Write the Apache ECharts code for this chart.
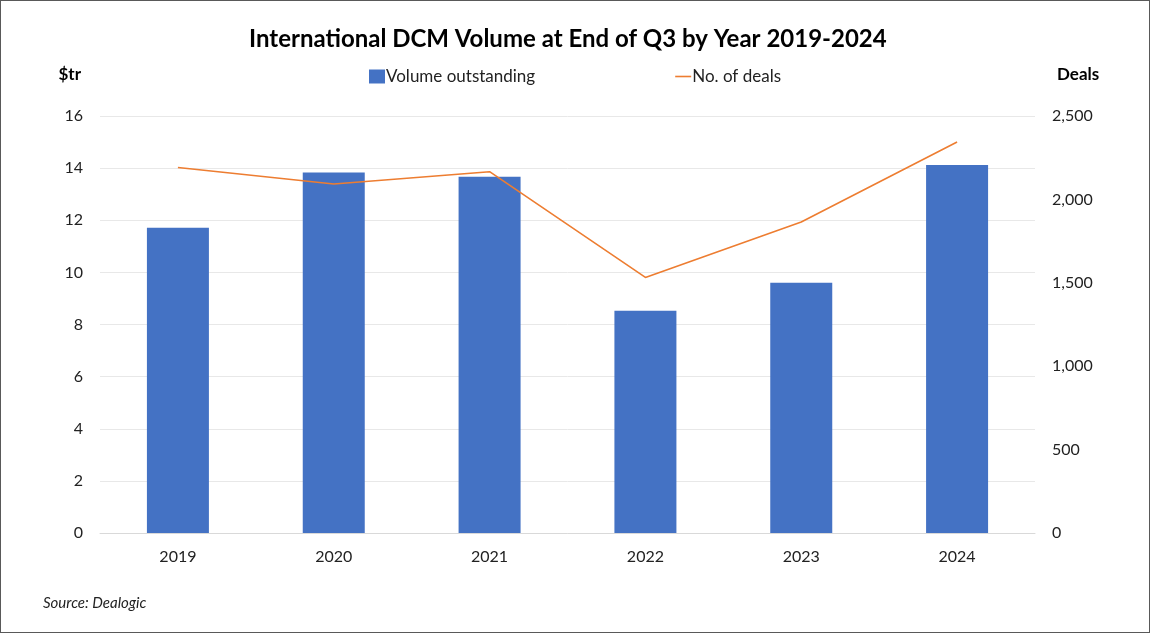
<!DOCTYPE html>
<html>
<head>
<meta charset="utf-8">
<script src="https://cdn.jsdelivr.net/npm/echarts@6/dist/echarts.min.js"></script>
<style>
html,body{margin:0;padding:0;background:#fff;}
#wrap{width:1150px;height:633px;box-sizing:border-box;border:1px solid #595959;position:relative;}
#c{width:1148px;height:631px;}
</style>
</head>
<body>
<div id="wrap"><div id="c"></div></div>
<script>
const years = ['2019','2020','2021','2022','2023','2024'];
const volumeOutstanding = [11.71, 13.83, 13.67, 8.53, 9.60, 14.12];
const numberOfDeals = [2191, 2092, 2166, 1532, 1864, 2344];
const leftTicks = {min:0, max:16, interval:2};
const rightTicks = {min:0, max:2500, interval:500};

const FONT = 'Lato, "Open Sans", sans-serif';
const chart = echarts.init(document.getElementById('c'), null, {renderer:'canvas'});
chart.setOption({
  animation:false,
  backgroundColor:'#fff',
  title:{
    text:'International DCM Volume at End of Q3 by Year 2019-2024',
    left:243, top:21,
    textStyle:{fontFamily:FONT, fontSize:24, fontWeight:'bold', color:'#000'}
  },
  legend:{
    top:62, left:'center', itemGap:140, itemWidth:16, itemHeight:14,
    textStyle:{fontFamily:FONT, fontSize:17, color:'#222', padding:[0,0,0,-4]},
    data:[
      {name:'Volume outstanding', icon:'rect'},
      {name:'No. of deals', icon:'path://M0,6 L20,6 L20,8 L0,8 Z'}
    ]
  },
  grid:{left:99, right:114, top:115, bottom:99, containLabel:false},
  xAxis:{
    type:'category', data:years,
    axisLine:{lineStyle:{color:'#D9D9D9'}},
    axisTick:{show:false},
    axisLabel:{fontFamily:FONT, fontSize:16, color:'#222', margin:16}
  },
  yAxis:[
    {
      type:'value', min:leftTicks.min, max:leftTicks.max, interval:leftTicks.interval,
      name:'$tr', nameLocation:'end', nameGap:33,
      nameTextStyle:{fontFamily:FONT, fontSize:17, fontWeight:'bold', color:'#000', align:'right', padding:[0,19,0,0]},
      axisLabel:{fontFamily:FONT, fontSize:16, color:'#222', margin:17},
      axisLine:{show:false}, axisTick:{show:false},
      splitLine:{lineStyle:{color:'#E8E8E8'}}
    },
    {
      type:'value', min:rightTicks.min, max:rightTicks.max, interval:rightTicks.interval,
      name:'Deals', nameLocation:'end', nameGap:33,
      nameTextStyle:{fontFamily:FONT, fontSize:17, fontWeight:'bold', color:'#000', align:'left', padding:[0,0,0,22]},
      axisLabel:{fontFamily:FONT, fontSize:16, color:'#222', margin:17,
        formatter:v=>v.toLocaleString('en-US')},
      axisLine:{show:false}, axisTick:{show:false},
      splitLine:{show:false}
    }
  ],
  series:[
    {
      name:'Volume outstanding', type:'bar', data:volumeOutstanding, yAxisIndex:0,
      barWidth:62, itemStyle:{color:'#4472C4'}
    },
    {
      name:'No. of deals', type:'line', data:numberOfDeals, yAxisIndex:1,
      symbol:'none', lineStyle:{color:'#ED7D31', width:1.6}, itemStyle:{color:'#ED7D31'}
    }
  ],
  graphic:[
    {type:'text', left:42, top:595,
      style:{text:'Source: Dealogic', fontFamily:FONT, fontSize:15, fontStyle:'italic', fill:'#222'}}
  ]
});
</script>
</body>
</html>
